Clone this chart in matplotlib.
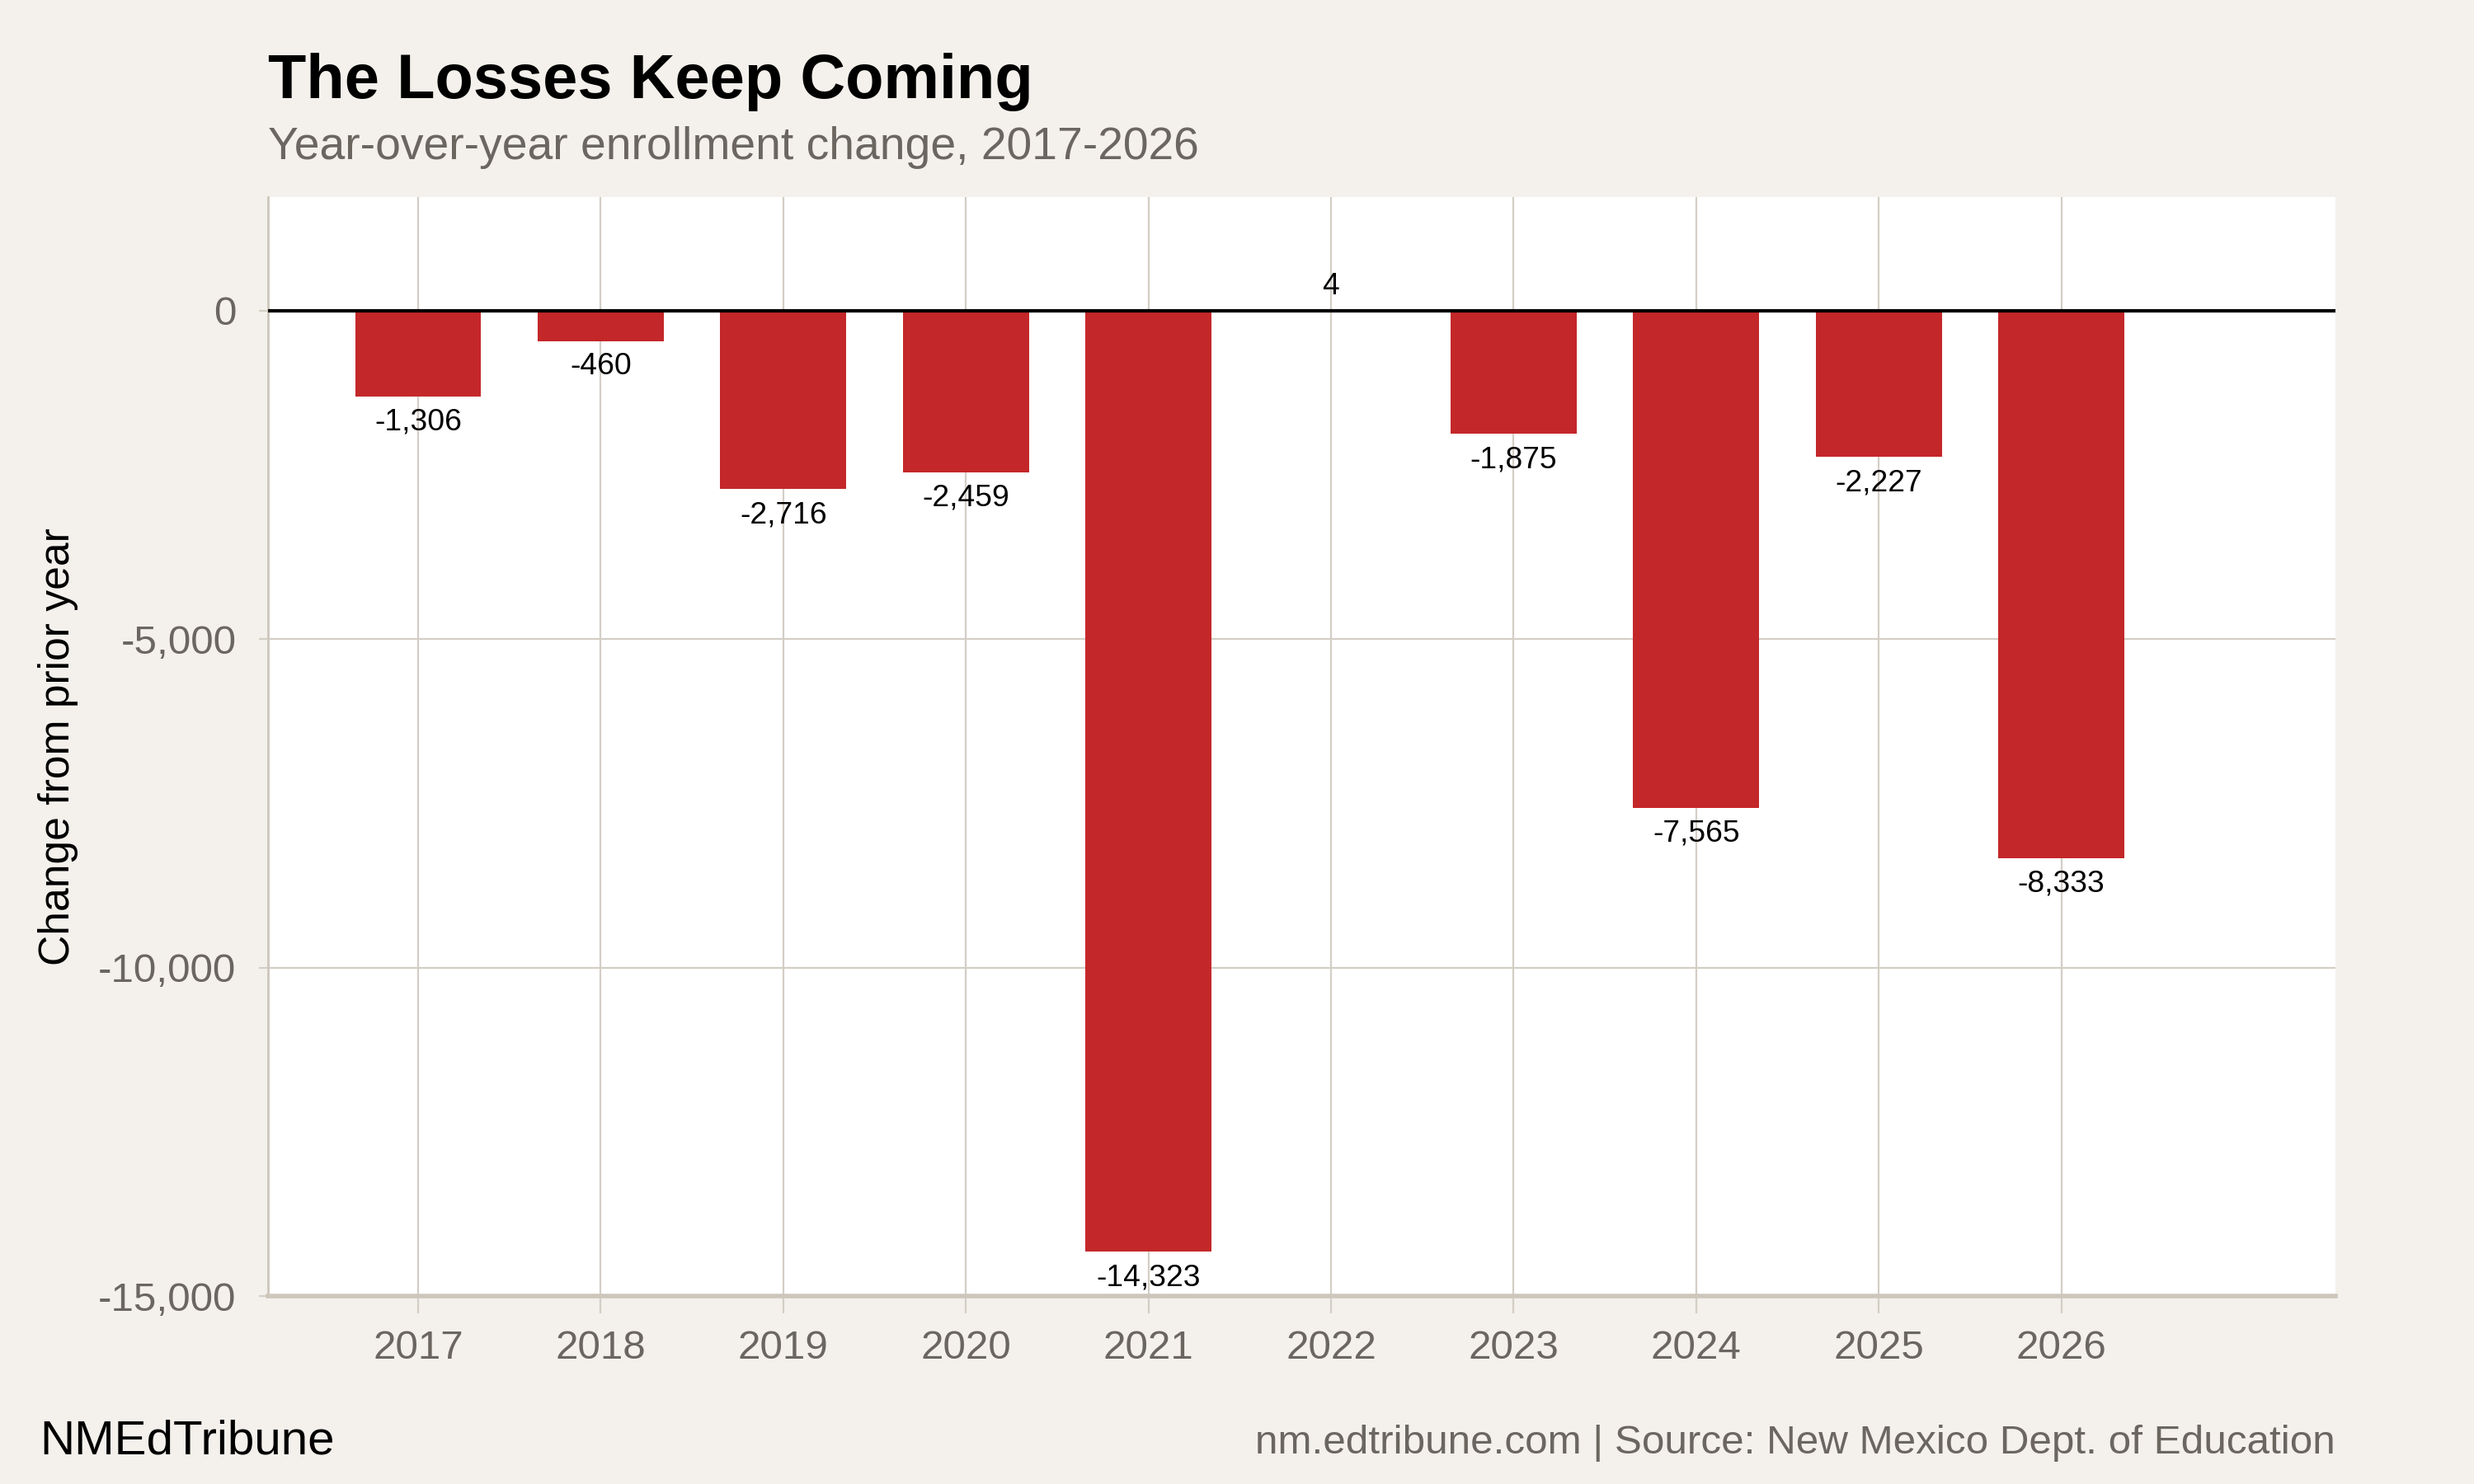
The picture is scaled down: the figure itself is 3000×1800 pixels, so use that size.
import matplotlib
matplotlib.use("Agg")
import matplotlib.pyplot as plt
from matplotlib.ticker import FuncFormatter

# data
years = ["2017", "2018", "2019", "2020", "2021", "2022", "2023", "2024", "2025", "2026"]
change = [-1306, -460, -2716, -2459, -14323, 4, -1875, -7565, -2227, -8333]

BG = "#f4f1ec"
RED = "#c42729"
GRID = "#d3cec5"
AXIS = "#cdc6bb"
GRAY = "#6b6660"

plt.rcParams["font.family"] = ["Liberation Sans", "DejaVu Sans"]

fig = plt.figure(figsize=(15, 9), dpi=200, facecolor=BG)
ax = fig.add_axes([0.1084, 0.1265, 0.8355, 0.7407])
ax.set_facecolor("white")

xs = list(range(1, len(years) + 1))
ax.bar(xs, change, width=0.69, color=RED, zorder=3)
ax.axhline(0, color="black", linewidth=1.5, zorder=4)

# value labels under negative bars, above positive ones
for x, v in zip(xs, change):
    if v < 0:
        ax.annotate(f"{v:,}", (x, v), xytext=(0, -5), textcoords="offset points",
                    ha="center", va="top", fontsize=13.4, color="black", zorder=5)
    else:
        ax.annotate(f"{v:,}", (x, v), xytext=(0, 4), textcoords="offset points",
                    ha="center", va="bottom", fontsize=13.4, color="black", zorder=5)

ax.set_xlim(0.179, 11.5)
ax.set_ylim(-15000, 1730)
ax.set_xticks(xs)
ax.set_xticklabels(years)
ax.set_yticks([0, -5000, -10000, -15000])
ax.yaxis.set_major_formatter(FuncFormatter(lambda v, p: f"{int(v):,}"))

ax.grid(True, color=GRID, linewidth=0.8, zorder=0)
ax.tick_params(axis="x", length=7.5, width=0.8, color=GRID, pad=7,
               labelsize=17.8, labelcolor=GRAY)
ax.tick_params(axis="y", length=4, width=0.8, color=GRID, pad=10,
               labelsize=17.8, labelcolor=GRAY)

for side in ["top", "right"]:
    ax.spines[side].set_visible(False)
ax.spines["left"].set_color(AXIS)
ax.spines["left"].set_linewidth(1.0)
ax.spines["bottom"].set_color(AXIS)
ax.spines["bottom"].set_linewidth(2.0)

fig.text(0.0236, 0.497, "Change from prior year", rotation=90, ha="center",
         va="center", fontsize=18.6, color="black")

fig.text(0.1084, 0.934, "The Losses Keep Coming", fontsize=27.3, fontweight="bold",
         color="black", ha="left", va="baseline")
fig.text(0.1084, 0.893, "Year-over-year enrollment change, 2017-2026", fontsize=19.9,
         color=GRAY, ha="left", va="baseline")

fig.text(0.016, 0.0205, "NMEdTribune", fontsize=21, color="black",
         ha="left", va="baseline")
fig.text(0.9439, 0.0205, "nm.edtribune.com | Source: New Mexico Dept. of Education",
         fontsize=17.8, color=GRAY, ha="right", va="baseline")

fig.savefig("out.png", dpi=200, facecolor=BG)
